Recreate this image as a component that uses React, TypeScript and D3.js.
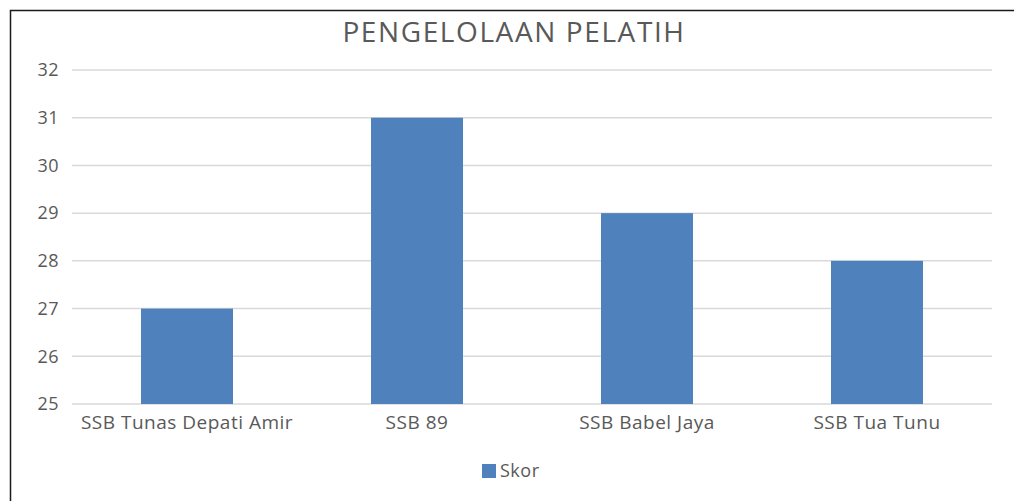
import { useEffect, useRef } from 'react';
import * as d3 from 'd3';

const WIDTH = 1014;
const HEIGHT = 501;
const MARGIN = { top: 70, right: 22, bottom: 97, left: 72 };

const TITLE = 'PENGELOLAAN PELATIH';
const CATEGORIES = ['SSB Tunas Depati Amir', 'SSB 89', 'SSB Babel Jaya', 'SSB Tua Tunu'];
const SKOR = [27, 31, 29, 28];
const Y_TICKS = [25, 26, 27, 28, 29, 30, 31, 32];
const SERIES_NAME = 'Skor';

const BAR_COLOR = '#4F81BD';
const TEXT_COLOR = '#595959';
const FONT = '"Open Sans", sans-serif';

export default function App() {
  const axisLeftRef = useRef<SVGGElement>(null);
  const axisBottomRef = useRef<SVGGElement>(null);

  const innerWidth = WIDTH - MARGIN.left - MARGIN.right;
  const innerHeight = HEIGHT - MARGIN.top - MARGIN.bottom;

  const x = d3
    .scaleBand<string>()
    .domain(CATEGORIES)
    .range([0, innerWidth])
    .paddingInner(0.6)
    .paddingOuter(0.3);

  const y = d3.scaleLinear().domain([25, 32]).range([innerHeight, 0]);

  useEffect(() => {
    const left = d3.select(axisLeftRef.current!);
    left.call(d3.axisLeft(y).tickValues(Y_TICKS).tickSize(0).tickPadding(13).tickFormat(d3.format('d')));
    left.select('.domain').remove();
    left
      .selectAll('text')
      .attr('fill', TEXT_COLOR)
      .style('font-size', '18px')
      .style('letter-spacing', '0.5px')
      .style('font-family', FONT);

    const bottom = d3.select(axisBottomRef.current!);
    bottom.call(d3.axisBottom(x).tickSize(0).tickPadding(12));
    bottom.select('.domain').remove();
    bottom
      .selectAll('text')
      .attr('fill', TEXT_COLOR)
      .style('font-size', '19px')
      .style('letter-spacing', '0.5px')
      .style('font-family', FONT);
  }, []);

  return (
    <svg
      width={WIDTH}
      height={HEIGHT}
      style={{ position: 'absolute', left: 0, top: 0, background: '#fff' }}
    >
      <rect x={10.5} y={10.5} width={WIDTH + 20} height={HEIGHT + 20} fill="#fff" stroke="#1a1a1a" strokeWidth={1.5} />
      <text
        x={WIDTH / 2 + 7}
        y={42}
        textAnchor="middle"
        fill={TEXT_COLOR}
        fontFamily={FONT}
        fontSize={28}
        letterSpacing={1.6}
      >
        {TITLE}
      </text>
      <g transform={`translate(${MARGIN.left},${MARGIN.top})`}>
        {Y_TICKS.map((t) => (
          <line key={t} x1={0} x2={innerWidth} y1={y(t)} y2={y(t)} stroke="#D9D9D9" strokeWidth={1.5} />
        ))}
        {CATEGORIES.map((c, i) => (
          <rect
            key={c}
            x={x(c)}
            y={y(SKOR[i])}
            width={x.bandwidth()}
            height={innerHeight - y(SKOR[i])}
            fill={BAR_COLOR}
          />
        ))}
        <g ref={axisLeftRef} />
        <g ref={axisBottomRef} transform={`translate(0,${innerHeight})`} />
      </g>
      <g transform="translate(482,464)">
        <rect x={0} y={0} width={14} height={14} fill={BAR_COLOR} />
        <text x={18} y={13} fill={TEXT_COLOR} fontFamily={FONT} fontSize={18} letterSpacing={0.5}>
          {SERIES_NAME}
        </text>
      </g>
    </svg>
  );
}
